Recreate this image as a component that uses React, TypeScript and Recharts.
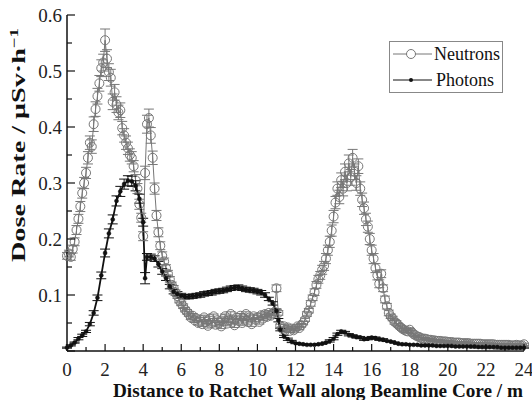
import { LineChart, Line, XAxis, YAxis, ErrorBar, Legend } from 'recharts';

const FONT = '"Liberation Serif", "Times New Roman", "DejaVu Serif", serif';
const NEUTRON_GREY = '#777';
const AXIS_COLOR = '#111';

// neutron readings, every 0.1 m (one row per metre)
const NEUTRON_DIST = [
  0, 0.1, 0.2, 0.3, 0.4, 0.5, 0.6, 0.7, 0.8, 0.9,
  1, 1.1, 1.2, 1.3, 1.4, 1.5, 1.6, 1.7, 1.8, 1.9,
  2, 2.1, 2.2, 2.3, 2.4, 2.5, 2.6, 2.7, 2.8, 2.9,
  3, 3.1, 3.2, 3.3, 3.4, 3.5, 3.6, 3.7, 3.8, 3.9,
  4, 4.1, 4.2, 4.3, 4.4, 4.5, 4.6, 4.7, 4.8, 4.9,
  5, 5.1, 5.2, 5.3, 5.4, 5.5, 5.6, 5.7, 5.8, 5.9,
  6, 6.1, 6.2, 6.3, 6.4, 6.5, 6.6, 6.7, 6.8, 6.9,
  7, 7.1, 7.2, 7.3, 7.4, 7.5, 7.6, 7.7, 7.8, 7.9,
  8, 8.1, 8.2, 8.3, 8.4, 8.5, 8.6, 8.7, 8.8, 8.9,
  9, 9.1, 9.2, 9.3, 9.4, 9.5, 9.6, 9.7, 9.8, 9.9,
  10, 10.1, 10.2, 10.3, 10.4, 10.5, 10.6, 10.7, 10.8, 10.9,
  11, 11.1, 11.2, 11.3, 11.4, 11.5, 11.6, 11.7, 11.8, 11.9,
  12, 12.1, 12.2, 12.3, 12.4, 12.5, 12.6, 12.7, 12.8, 12.9,
  13, 13.1, 13.2, 13.3, 13.4, 13.5, 13.6, 13.7, 13.8, 13.9,
  14, 14.1, 14.2, 14.3, 14.4, 14.5, 14.6, 14.7, 14.8, 14.9,
  15, 15.1, 15.2, 15.3, 15.4, 15.5, 15.6, 15.7, 15.8, 15.9,
  16, 16.1, 16.2, 16.3, 16.4, 16.5, 16.6, 16.7, 16.8, 16.9,
  17, 17.1, 17.2, 17.3, 17.4, 17.5, 17.6, 17.7, 17.8, 17.9,
  18, 18.1, 18.2, 18.3, 18.4, 18.5, 18.6, 18.7, 18.8, 18.9,
  19, 19.1, 19.2, 19.3, 19.4, 19.5, 19.6, 19.7, 19.8, 19.9,
  20, 20.1, 20.2, 20.3, 20.4, 20.5, 20.6, 20.7, 20.8, 20.9,
  21, 21.1, 21.2, 21.3, 21.4, 21.5, 21.6, 21.7, 21.8, 21.9,
  22, 22.1, 22.2, 22.3, 22.4, 22.5, 22.6, 22.7, 22.8, 22.9,
  23, 23.1, 23.2, 23.3, 23.4, 23.5, 23.6, 23.7, 23.8, 23.9,
  24,
];

// µSv/h
const NEUTRONS = [
  0.170, 0.174, 0.168, 0.182, 0.195, 0.216, 0.236, 0.258, 0.282, 0.300,
  0.318, 0.345, 0.372, 0.365, 0.405, 0.432, 0.455, 0.478, 0.505, 0.515,
  0.555, 0.522, 0.498, 0.488, 0.445, 0.462, 0.440, 0.426, 0.430, 0.398,
  0.385, 0.372, 0.362, 0.350, 0.345, 0.330, 0.305, 0.290, 0.262, 0.238,
  0.205, 0.318, 0.405, 0.416, 0.385, 0.345, 0.290, 0.242, 0.212, 0.188,
  0.170, 0.160, 0.148, 0.138, 0.128, 0.118, 0.112, 0.104, 0.098, 0.090,
  0.085, 0.080, 0.074, 0.070, 0.066, 0.060, 0.063, 0.055, 0.058, 0.050,
  0.056, 0.048, 0.060, 0.052, 0.045, 0.058, 0.050, 0.062, 0.047, 0.055,
  0.050, 0.044, 0.057, 0.062, 0.049, 0.055, 0.066, 0.052, 0.046, 0.060,
  0.054, 0.063, 0.050, 0.058, 0.066, 0.052, 0.060, 0.048, 0.062, 0.056,
  0.060, 0.052, 0.064, 0.058, 0.066, 0.061, 0.068, 0.063, 0.067, 0.070,
  0.112, 0.068, 0.045, 0.040, 0.044, 0.038, 0.042, 0.036, 0.040, 0.037,
  0.040, 0.044, 0.041, 0.046, 0.050, 0.056, 0.066, 0.072, 0.085, 0.095,
  0.105, 0.118, 0.128, 0.135, 0.145, 0.152, 0.165, 0.180, 0.195, 0.215,
  0.240, 0.265, 0.290, 0.275, 0.305, 0.290, 0.320, 0.300, 0.335, 0.310,
  0.345, 0.320, 0.300, 0.330, 0.290, 0.270, 0.255, 0.235, 0.222, 0.200,
  0.180, 0.165, 0.148, 0.135, 0.120, 0.138, 0.112, 0.092, 0.080, 0.068,
  0.062, 0.058, 0.052, 0.050, 0.046, 0.043, 0.040, 0.038, 0.036, 0.035,
  0.038, 0.034, 0.030, 0.028, 0.026, 0.025, 0.023, 0.022, 0.022, 0.021,
  0.020, 0.020, 0.019, 0.019, 0.018, 0.018, 0.018, 0.017, 0.017, 0.017,
  0.016, 0.016, 0.016, 0.015, 0.015, 0.015, 0.015, 0.014, 0.014, 0.014,
  0.014, 0.014, 0.013, 0.013, 0.013, 0.013, 0.013, 0.013, 0.012, 0.012,
  0.012, 0.012, 0.012, 0.012, 0.012, 0.011, 0.011, 0.011, 0.011, 0.011,
  0.011, 0.011, 0.011, 0.010, 0.010, 0.010, 0.011, 0.010, 0.010, 0.010,
  0.012,
];

const NEUTRON_ERR = [
  0.006, 0.006, 0.006, 0.007, 0.007, 0.008, 0.008, 0.009, 0.009, 0.010,
  0.010, 0.011, 0.012, 0.012, 0.013, 0.013, 0.014, 0.014, 0.015, 0.015,
  0.020, 0.016, 0.015, 0.015, 0.014, 0.014, 0.014, 0.013, 0.013, 0.012,
  0.012, 0.012, 0.011, 0.011, 0.011, 0.010, 0.010, 0.009, 0.009, 0.008,
  0.008, 0.012, 0.016, 0.016, 0.014, 0.012, 0.010, 0.009, 0.008, 0.007,
  0.007, 0.006, 0.006, 0.006, 0.005, 0.005, 0.005, 0.005, 0.004, 0.004,
  0.004, 0.004, 0.004, 0.004, 0.004, 0.004, 0.004, 0.004, 0.004, 0.004,
  0.004, 0.004, 0.004, 0.004, 0.004, 0.004, 0.004, 0.004, 0.004, 0.004,
  0.004, 0.004, 0.004, 0.004, 0.004, 0.004, 0.004, 0.004, 0.004, 0.004,
  0.004, 0.004, 0.004, 0.004, 0.004, 0.004, 0.004, 0.004, 0.004, 0.004,
  0.004, 0.004, 0.004, 0.004, 0.004, 0.004, 0.004, 0.004, 0.004, 0.004,
  0.006, 0.004, 0.003, 0.003, 0.003, 0.003, 0.003, 0.003, 0.003, 0.003,
  0.003, 0.003, 0.003, 0.003, 0.003, 0.003, 0.004, 0.004, 0.005, 0.005,
  0.006, 0.006, 0.007, 0.007, 0.008, 0.008, 0.009, 0.009, 0.010, 0.010,
  0.011, 0.011, 0.012, 0.012, 0.013, 0.013, 0.014, 0.014, 0.015, 0.014,
  0.015, 0.014, 0.013, 0.013, 0.012, 0.012, 0.011, 0.011, 0.010, 0.010,
  0.009, 0.009, 0.008, 0.008, 0.007, 0.007, 0.006, 0.006, 0.005, 0.005,
  0.004, 0.004, 0.004, 0.004, 0.003, 0.003, 0.003, 0.003, 0.003, 0.003,
  0.002, 0.002, 0.002, 0.002, 0.002, 0.002, 0.002, 0.002, 0.002, 0.002,
  0.002, 0.002, 0.002, 0.002, 0.002, 0.002, 0.002, 0.002, 0.002, 0.002,
  0.002, 0.002, 0.002, 0.002, 0.002, 0.002, 0.002, 0.002, 0.002, 0.002,
  0.002, 0.002, 0.002, 0.002, 0.002, 0.002, 0.002, 0.002, 0.002, 0.002,
  0.002, 0.002, 0.002, 0.002, 0.002, 0.002, 0.002, 0.002, 0.002, 0.002,
  0.002, 0.002, 0.002, 0.002, 0.002, 0.002, 0.002, 0.002, 0.002, 0.002,
  0.002,
];

// photon readings, every 0.2 m plus 4.1 and 11.1 (one row per 2 m)
const PHOTON_DIST = [
  0, 0.2, 0.4, 0.6, 0.8, 1, 1.2, 1.4, 1.6, 1.8,
  2, 2.2, 2.4, 2.6, 2.8, 3, 3.2, 3.4, 3.6, 3.8,
  4, 4.1, 4.2, 4.4, 4.6, 4.8, 5, 5.2, 5.4, 5.6, 5.8,
  6, 6.2, 6.4, 6.6, 6.8, 7, 7.2, 7.4, 7.6, 7.8,
  8, 8.2, 8.4, 8.6, 8.8, 9, 9.2, 9.4, 9.6, 9.8,
  10, 10.2, 10.4, 10.6, 10.8, 11, 11.1, 11.2, 11.4, 11.6, 11.8,
  12, 12.2, 12.4, 12.6, 12.8, 13, 13.2, 13.4, 13.6, 13.8,
  14, 14.2, 14.4, 14.6, 14.8, 15, 15.2, 15.4, 15.6, 15.8,
  16, 16.2, 16.4, 16.6, 16.8, 17, 17.2, 17.4, 17.6, 17.8,
  18, 18.2, 18.4, 18.6, 18.8, 19, 19.2, 19.4, 19.6, 19.8,
  20, 20.2, 20.4, 20.6, 20.8, 21, 21.2, 21.4, 21.6, 21.8,
  22, 22.2, 22.4, 22.6, 22.8, 23, 23.2, 23.4, 23.6, 23.8,
  24,
];

const PHOTONS = [
  0.006, 0.010, 0.015, 0.022, 0.028, 0.035, 0.048, 0.068, 0.095, 0.135,
  0.175, 0.210, 0.235, 0.268, 0.285, 0.298, 0.304, 0.303, 0.295, 0.272,
  0.230, 0.130, 0.168, 0.168, 0.165, 0.155, 0.142, 0.130, 0.115, 0.106, 0.102,
  0.099, 0.097, 0.097, 0.098, 0.099, 0.100, 0.102, 0.103, 0.104, 0.106,
  0.107, 0.108, 0.110, 0.112, 0.113, 0.114, 0.112, 0.110, 0.109, 0.108,
  0.106, 0.104, 0.100, 0.093, 0.085, 0.072, 0.055, 0.038, 0.026, 0.021, 0.017,
  0.014, 0.013, 0.012, 0.011, 0.011, 0.011, 0.012, 0.013, 0.015, 0.018,
  0.022, 0.030, 0.035, 0.033, 0.029, 0.027, 0.025, 0.024, 0.021, 0.022,
  0.024, 0.023, 0.021, 0.020, 0.018, 0.017, 0.015, 0.013, 0.012, 0.012,
  0.011, 0.011, 0.011, 0.010, 0.010, 0.010, 0.010, 0.009, 0.009, 0.009,
  0.009, 0.009, 0.008, 0.008, 0.008, 0.008, 0.008, 0.008, 0.007, 0.007,
  0.007, 0.007, 0.007, 0.007, 0.006, 0.006, 0.006, 0.006, 0.006, 0.006,
  0.006,
];

const PHOTON_ERR = [
  0.001, 0.001, 0.001, 0.002, 0.002, 0.002, 0.003, 0.004, 0.005, 0.006,
  0.007, 0.008, 0.008, 0.009, 0.009, 0.009, 0.009, 0.009, 0.009, 0.008,
  0.007, 0.010, 0.006, 0.005, 0.005, 0.005, 0.005, 0.004, 0.004, 0.004, 0.004,
  0.004, 0.004, 0.004, 0.004, 0.004, 0.004, 0.004, 0.004, 0.004, 0.004,
  0.004, 0.004, 0.004, 0.004, 0.004, 0.004, 0.004, 0.004, 0.004, 0.004,
  0.004, 0.004, 0.004, 0.003, 0.003, 0.003, 0.003, 0.002, 0.002, 0.002, 0.002,
  0.001, 0.001, 0.001, 0.001, 0.001, 0.001, 0.001, 0.001, 0.001, 0.002,
  0.002, 0.002, 0.002, 0.002, 0.002, 0.002, 0.002, 0.002, 0.002, 0.002,
  0.002, 0.002, 0.002, 0.002, 0.001, 0.001, 0.001, 0.001, 0.001, 0.001,
  0.001, 0.001, 0.001, 0.001, 0.001, 0.001, 0.001, 0.001, 0.001, 0.001,
  0.001, 0.001, 0.001, 0.001, 0.001, 0.001, 0.001, 0.001, 0.001, 0.001,
  0.001, 0.001, 0.001, 0.001, 0.001, 0.001, 0.001, 0.001, 0.001, 0.001,
  0.001,
];

const X_TICKS = [0, 1, 2, 3, 4, 5, 6, 7, 8, 9, 10, 11, 12, 13, 14, 15, 16, 17, 18, 19, 20, 21, 22, 23, 24];
const Y_TICKS = [0, 0.05, 0.1, 0.15, 0.2, 0.25, 0.3, 0.35, 0.4, 0.45, 0.5, 0.55, 0.6];

const neutronData = NEUTRON_DIST.map((d, i) => ({ d, value: NEUTRONS[i], err: NEUTRON_ERR[i] }));
const photonData = PHOTON_DIST.map((d, i) => ({ d, value: PHOTONS[i], err: PHOTON_ERR[i] }));

const isMajorY = (v: number) => Math.round(v * 100) % 10 === 0;
const textStyle = { fontFamily: FONT };

function BottomTick({ x, y, payload }: any) {
  const major = payload.value % 2 === 0;
  return (
    <g>
      <line x1={x} x2={x} y1={y} y2={y - (major ? 7 : 4)} stroke={AXIS_COLOR} strokeWidth={1.2} />
      {major && (
        <text x={x} y={y + 25} textAnchor="middle" fontSize={19} style={textStyle} fill="#222">
          {payload.value}
        </text>
      )}
    </g>
  );
}

function TopTick({ x, y, payload }: any) {
  const major = payload.value % 2 === 0;
  return <line x1={x} x2={x} y1={y} y2={y + (major ? 7 : 4)} stroke={AXIS_COLOR} strokeWidth={1.2} />;
}

function LeftTick({ x, y, payload }: any) {
  const major = isMajorY(payload.value);
  return (
    <g>
      <line x1={x} x2={x + (major ? 8 : 5)} y1={y} y2={y} stroke={AXIS_COLOR} strokeWidth={1.2} />
      {major && payload.value > 0 && (
        <text x={x - 5} y={y + 6.5} textAnchor="end" fontSize={19} style={textStyle} fill="#222">
          {payload.value.toFixed(1)}
        </text>
      )}
    </g>
  );
}

function RightTick({ x, y, payload }: any) {
  const major = isMajorY(payload.value);
  return <line x1={x} x2={x - (major ? 8 : 6)} y1={y} y2={y} stroke={AXIS_COLOR} strokeWidth={1.2} />;
}

function XLabel() {
  return (
    <text
      x={318}
      y={397}
      textAnchor="middle"
      fontSize={19}
      fontWeight="bold"
      textLength={410}
      lengthAdjust="spacingAndGlyphs"
      style={textStyle}
      fill="#111"
    >
      Distance to Ratchet Wall along Beamline Core / m
    </text>
  );
}

function YLabel() {
  return (
    <text
      transform="translate(25, 145) rotate(-90)"
      textAnchor="middle"
      fontSize={18}
      fontWeight="bold"
      textLength={234}
      lengthAdjust="spacingAndGlyphs"
      style={textStyle}
      fill="#111"
    >
      Dose Rate / μSv·h
      <tspan dy={-7} fontSize={12}>−1</tspan>
    </text>
  );
}

function LegendBox() {
  return (
    <svg width={114} height={52} style={{ display: 'block' }}>
      <rect x={0.5} y={0.5} width={113} height={51} fill="#fff" stroke="#888" />
      <line x1={4} x2={43} y1={13} y2={13} stroke={NEUTRON_GREY} />
      <circle cx={22} cy={13} r={4.5} fill="#fff" stroke={NEUTRON_GREY} />
      <text x={45} y={19} fontSize={18} style={textStyle} fill="#111">Neutrons</text>
      <line x1={4} x2={43} y1={39} y2={39} stroke="#111" />
      <circle cx={22} cy={39} r={2} fill="#111" />
      <text x={47} y={45} fontSize={18} style={textStyle} fill="#111">Photons</text>
    </svg>
  );
}

export default function App() {
  return (
    <div style={{ position: 'absolute', left: 0, top: 0, width: 532, height: 400, background: '#fff' }}>
      <LineChart width={532} height={400} margin={{ top: 15, right: 8, bottom: 0, left: 0 }}>
        <XAxis
          xAxisId="bottom"
          dataKey="d"
          type="number"
          domain={[0, 24]}
          ticks={X_TICKS}
          interval={0}
          height={49}
          tickSize={0}
          tickMargin={0}
          tickLine={false}
          tick={<BottomTick />}
          axisLine={{ stroke: AXIS_COLOR, strokeWidth: 1.5 }}
          label={<XLabel />}
        />
        <XAxis
          xAxisId="top"
          orientation="top"
          dataKey="d"
          type="number"
          domain={[0, 24]}
          ticks={X_TICKS}
          interval={0}
          height={0}
          tickSize={0}
          tickMargin={0}
          tickLine={false}
          tick={<TopTick />}
          axisLine={{ stroke: AXIS_COLOR, strokeWidth: 1.5 }}
        />
        <YAxis
          yAxisId="left"
          type="number"
          domain={[0, 0.6]}
          ticks={Y_TICKS}
          interval={0}
          width={67}
          tickSize={0}
          tickMargin={0}
          tickLine={false}
          tick={<LeftTick />}
          axisLine={{ stroke: AXIS_COLOR, strokeWidth: 1.5 }}
          label={<YLabel />}
        />
        <YAxis
          yAxisId="right"
          orientation="right"
          type="number"
          domain={[0, 0.6]}
          ticks={Y_TICKS}
          interval={0}
          width={0}
          tickSize={0}
          tickMargin={0}
          tickLine={false}
          tick={<RightTick />}
          axisLine={{ stroke: AXIS_COLOR, strokeWidth: 1.5 }}
        />
        <Legend
          layout="horizontal"
          verticalAlign="middle"
          align="center"
          content={() => <LegendBox />}
          wrapperStyle={{ left: 389, top: 41, width: 114, height: 52 }}
        />
        <Line
          xAxisId="bottom"
          yAxisId="left"
          data={neutronData}
          dataKey="value"
          name="Neutrons"
          stroke={NEUTRON_GREY}
          strokeWidth={1}
          dot={{ r: 4.5, stroke: NEUTRON_GREY, strokeWidth: 1, fill: 'none' }}
          activeDot={false}
          isAnimationActive={false}
        >
          <ErrorBar dataKey="err" width={5} stroke={NEUTRON_GREY} strokeWidth={1} direction="y" isAnimationActive={false} />
        </Line>
        <Line
          xAxisId="bottom"
          yAxisId="left"
          data={photonData}
          dataKey="value"
          name="Photons"
          stroke="#111"
          strokeWidth={1.8}
          dot={{ r: 2, stroke: '#111', strokeWidth: 0.5, fill: '#111' }}
          activeDot={false}
          isAnimationActive={false}
        >
          <ErrorBar dataKey="err" width={5} stroke="#111" strokeWidth={1} direction="y" isAnimationActive={false} />
        </Line>
      </LineChart>
    </div>
  );
}
